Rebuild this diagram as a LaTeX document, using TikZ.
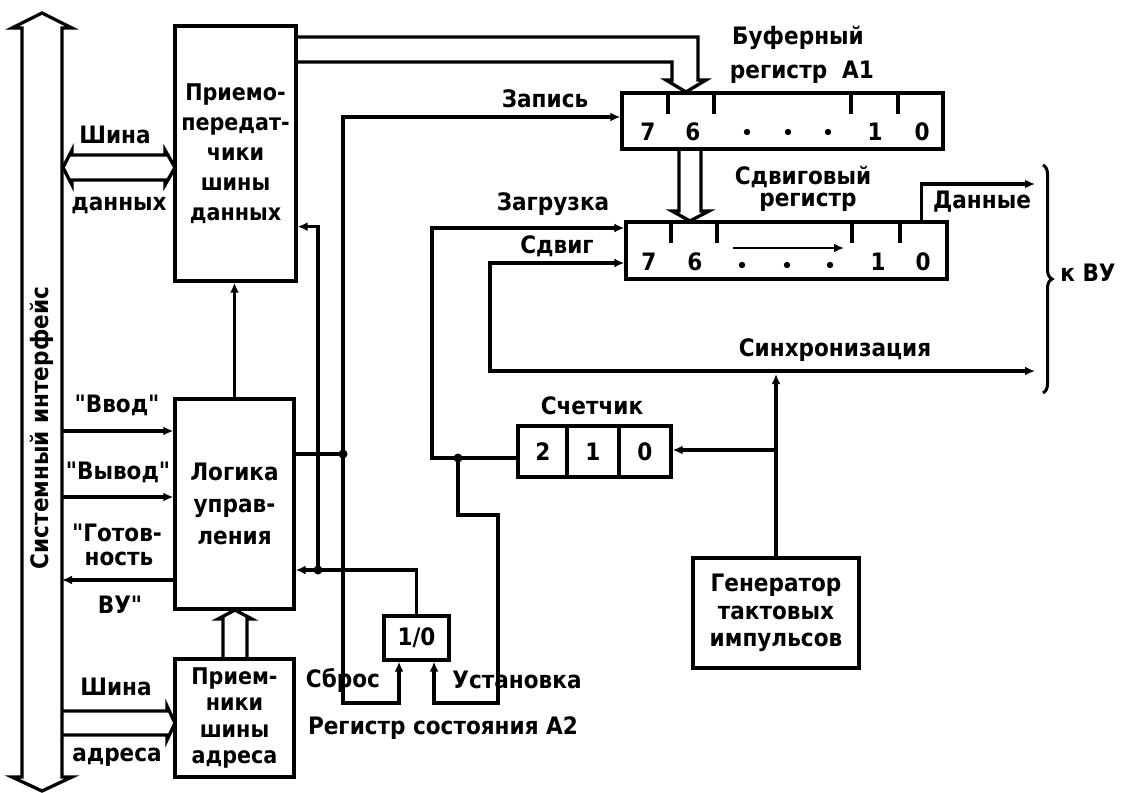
\documentclass[tikz,border=0pt]{standalone}
\usepackage{fontspec}
\newfontfamily\dfont{DejaVu Sans Condensed}
\usetikzlibrary{arrows.meta,decorations.pathreplacing,calc}
\begin{document}
\begin{tikzpicture}[x=1pt,y=-1pt,
  line width=3.3pt,
  every node/.style={font=\dfont\bfseries\fontsize{24}{30}\selectfont, inner sep=0pt},
  box/.style={draw, line width=3.3pt, align=center},
  sig/.style={-{Latex[length=10pt,width=9pt]}},
  sigb/.style={{Latex[length=10pt,width=9pt]}-{Latex[length=10pt,width=9pt]}},
  bus/.style={line width=3.3pt, line join=miter},
  jdot/.style={circle, fill, minimum size=9pt, inner sep=0pt}
]
\fill[white] (0,0) rectangle (1129,792);
\useasboundingbox (0,0) rectangle (1129,792);

% ---------- system bus ----------
\draw[bus] (22,777) -- (22,28) -- (12,28) -- (42,13) -- (72,28) -- (62,28)
  -- (62,777) -- (72,777) -- (42,791) -- (12,777) -- cycle;
\node[rotate=90] (sys) at (42,428) {Системный интерфейс};

% ---------- boxes ----------
\node[box, minimum width=121pt, minimum height=255pt,
  font=\dfont\bfseries\fontsize{23}{30}\selectfont] (trx) at (235.5,153.5)
  {Приемо-\\передат-\\чики\\шины\\данных};
\node[box, minimum width=119pt, minimum height=210pt,
  font=\dfont\bfseries\fontsize{24}{32}\selectfont] (log) at (234.5,504)
  {Логика\\управ-\\ления};
\node[box, minimum width=119pt, minimum height=118pt,
  font=\dfont\bfseries\fontsize{23}{26.5}\selectfont] (adr) at (234.5,718)
  {Прием-\\ники\\шины\\адреса};
\node[box, minimum width=166pt, minimum height=110pt,
  font=\dfont\bfseries\fontsize{24}{27.5}\selectfont] (gen) at (776,613)
  {Генератор\\тактовых\\импульсов};
\node[box, minimum width=65pt, minimum height=44pt] (ff) at (416.5,638) {1/0};
\node[box, minimum width=153pt, minimum height=51pt] (cnt) at (594.5,451.5) {};
\node[box, minimum width=321pt, minimum height=56pt] (buf) at (782.5,121) {};
\node[box, minimum width=321pt, minimum height=57pt] (sh) at (786.5,250.5) {};

% counter internals
\draw (567,426) -- (567,477);
\draw (619,426) -- (619,477);
\node (c2) at (543,452) {2};
\node (c1) at (593,452) {1};
\node (c0) at (645,452) {0};

% buffer register internals
\foreach \x in {668,714,851,898} \draw (\x,93) -- (\x,114);
\node (b7) at (648,132) {7};
\node (b6) at (693,132) {6};
\foreach \x in {747,788,828} \fill (\x,132) circle (3.2pt);
\node (b1) at (875,132) {1};
\node (b0) at (922,132) {0};

% shift register internals
\foreach \x in {671,717,852,900} \draw (\x,222) -- (\x,243);
\node (s7) at (649,262) {7};
\node (s6) at (695,262) {6};
\foreach \x in {742,787,830} \fill (\x,265) circle (3.2pt);
\node (s1) at (878,262) {1};
\node (s0) at (923,262) {0};
\draw[sig, line width=2.8pt] (733,248) -- (844,248);

% ---------- bus arrows ----------
% data bus (both ways)
\draw[bus] (72,155) -- (165,155) -- (165,150) -- (175,167.5) -- (165,185) -- (165,180)
  -- (72,180) -- (72,185) -- (63,167.5) -- (72,150) -- cycle;
% address bus
\draw[bus] (62,711) -- (167,711) -- (167,706) -- (175,723) -- (167,740) -- (167,735) -- (62,735);
% address receivers -> logic
\draw[bus] (223,659) -- (223,619) -- (218,619) -- (235,610) -- (252,619) -- (247,619) -- (247,659);
% transceivers -> buffer
\draw[bus] (296,37) -- (698,37) -- (698,80) -- (706,80) -- (686,92) -- (666,80) -- (672,80)
  -- (672,62) -- (296,62);
% buffer -> shift
\draw[bus] (679,149) -- (679,211) -- (672,211) -- (690,221) -- (709,211) -- (701,211) -- (701,149);

% ---------- coordinates ----------
\coordinate (J1) at (343,454);
\coordinate (J2) at (318,570);
\coordinate (J3) at (458,458);
\coordinate (S0) at (490,371);
\coordinate (S1) at (1035,371);
\coordinate (G1) at (776,450);
\coordinate (D1) at (1035,184);
\coordinate (bIn) at (62,431);
\coordinate (bOut) at (62,497);
\coordinate (bRdy) at (62,580);

% ---------- connectors ----------
\draw[sig] (bIn) -- (bIn -| log.west);
\draw[sig] (bOut) -- (bOut -| log.west);
\draw[sig] (bRdy -| log.west) -- (bRdy);
\draw[sig] (log.north) -- (log.north |- trx.south);

\draw (log.east |- J1) -- (J1);
\draw[sig] (J1) |- ($(buf.west)+(0,-4)$);
\draw[sig] (J1) -- (343,703) -| ($(ff.south)+(-17.5,0)$);
\draw[sig] (ff.north) |- (log.east |- J2);
\draw[sig] (J2) |- ($(trx.south east)+(0,-56)$);
\node[jdot] (j1) at (J1) {};
\node[jdot] (j2) at (J2) {};

\draw (J3) -- (J3 -| cnt.west);
\draw[sig] (J3) -- (432,458) |- ($(sh.west)+(0,-22.5)$);
\draw[sig] (J3) -- (458,515) -- (498,515) -- (498,703) -| ($(ff.south)+(17.5,0)$);
\node[jdot] (j3) at (J3) {};

\draw[sigb] ($(sh.west)+(0,12.5)$) -| (S0) -- (S1);
\draw[sig] (gen.north) -- ($(gen.north |- S0)+(0,3)$);
\draw[sig] (G1) -- (G1 -| cnt.east);
\draw[sig] ($(sh.north west)+(297,0)$) |- (D1);

% brace
\draw[decorate, decoration={brace, amplitude=9pt}, line width=3pt] (1043,165) -- (1043,393);

% ---------- labels ----------
\node (l1) at (115,135) {Шина};
\node (l2) at (119,205) {данных};
\node (l3) at (117,405) {"Ввод"};
\node (l4) at (118,472) {"Вывод"};
\node (l5) at (117,533) {"Готов-};
\node (l6) at (119,559) {ность};
\node (l7) at (120,605) {ВУ"};
\node (l8) at (116,687) {Шина};
\node (l9) at (117,757) {адреса};
\node (l10) at (545,99) {Запись};
\node (l11) at (553,204) {Загрузка};
\node (l12) at (557,246) {Сдвиг};
\node (l13) at (798,38) {Буферный};
\node (l14) at (802,72) {регистр~ А1};
\node (l15) at (803,177) {Сдвиговый};
\node (l16) at (808,202) {регистр};
\node (l17) at (982,202) {Данные};
\node (l18) at (835,350) {Синхронизация};
\node (l19) at (592,406) {Счетчик};
\node (l20) at (343,680) {Сброс};
\node (l21) at (517,680) {Установка};
\node (l22) at (443,728) {Регистр состояния А2};
\node (l23) at (1088,273) {к ВУ};
\end{tikzpicture}
\end{document}
